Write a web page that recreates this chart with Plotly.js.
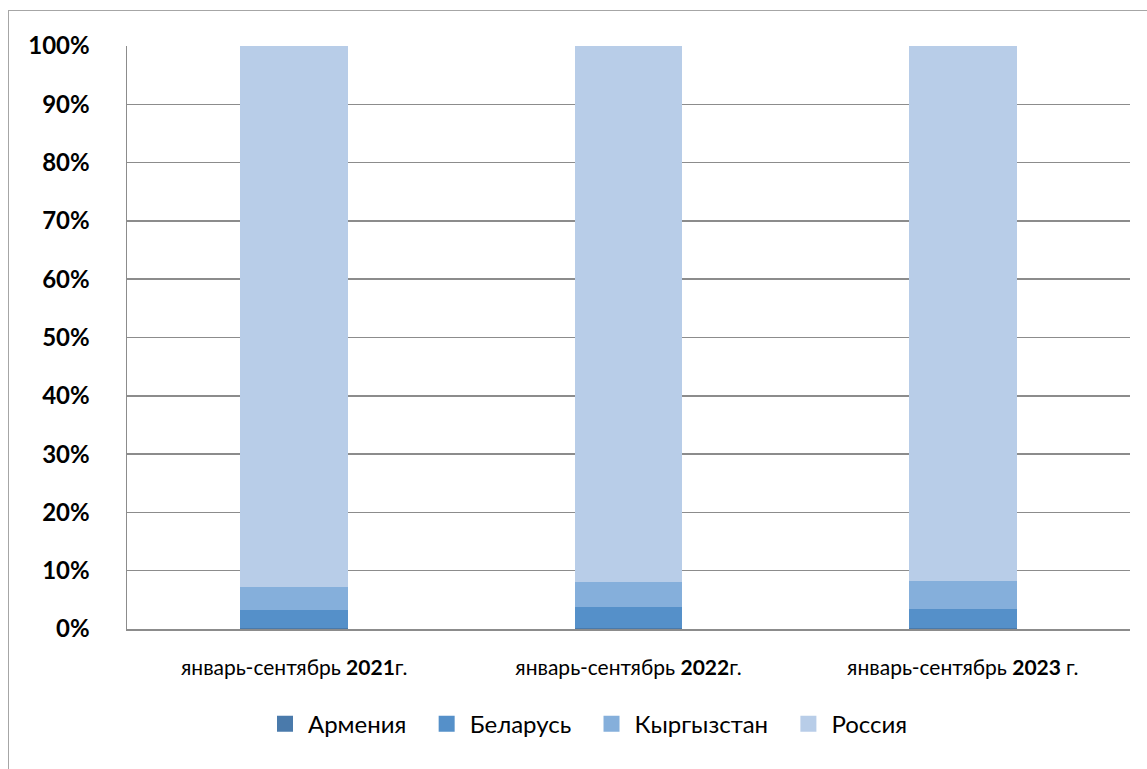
<!DOCTYPE html>
<html>
<head>
<meta charset="utf-8">
<script src="https://cdn.plot.ly/plotly-3.0.1.min.js"></script>
<style>
  html, body { margin: 0; padding: 0; background: #fff; overflow: hidden; }
  #chart { width: 1147px; height: 769px; }
  #frame { position: absolute; left: 8px; top: 10px; width: 1200px; height: 800px;
           border: 1.5px solid #a6a6a6; pointer-events: none; }
</style>
</head>
<body>
<div id="chart"></div>
<div id="frame"></div>
<script>
const categories = [
  'январь-сентябрь <b>2021</b>г.',
  'январь-сентябрь <b>2022</b>г.',
  'январь-сентябрь <b>2023 </b>г.'
];
const seriesNames = ['Армения', 'Беларусь', 'Кыргызстан', 'Россия'];
const armenia    = [0.1, 0.2, 0.15];
const belarus    = [3.2, 3.5, 3.2];
const kyrgyzstan = [3.9, 4.4, 4.9];
const russia     = [92.8, 91.9, 91.75];
const tickValues = [0, 10, 20, 30, 40, 50, 60, 70, 80, 90, 100];
const tickLabels = ['0%', '10%', '20%', '30%', '40%', '50%', '60%', '70%', '80%', '90%', '100%'];

const colors = ['#4a7aab', '#5590c9', '#85afdb', '#b8cde8'];
const seriesValues = [armenia, belarus, kyrgyzstan, russia];

const barTraces = seriesNames.map((name, i) => ({
  type: 'bar',
  name: name,
  x: categories,
  y: seriesValues[i],
  marker: { color: colors[i], line: { width: 0 } },
  showlegend: false,
  legendgroup: name,
  hoverinfo: 'x+y+name'
}));

// legend-only entries with larger square swatches
const legendTraces = seriesNames.map((name, i) => ({
  type: 'scatter',
  mode: 'markers',
  name: name + '\u00a0\u00a0',
  x: [null],
  y: [null],
  legendgroup: name,
  marker: { color: colors[i], symbol: 'square', size: 16, line: { width: 0 } },
  showlegend: true
}));

const font = 'Lato, "Open Sans", "DejaVu Sans", sans-serif';

const layout = {
  width: 1147,
  height: 769,
  margin: { l: 127, r: 17, t: 46, b: 140 },
  paper_bgcolor: '#ffffff',
  plot_bgcolor: '#ffffff',
  barmode: 'stack',
  barnorm: 'percent',
  bargap: 0.677,
  showlegend: true,
  font: { family: font, color: '#000000' },
  xaxis: {
    type: 'category',
    categoryarray: categories,
    showgrid: false,
    showline: true,
    linecolor: '#8c8c8c',
    linewidth: 1.5,
    ticks: '',
    tickfont: { family: font, size: 21, color: '#000000' },
    ticklabelstandoff: 19,
    fixedrange: true
  },
  yaxis: {
    range: [0, 100],
    tickvals: tickValues,
    ticktext: tickLabels,
    showgrid: true,
    gridcolor: '#8c8c8c',
    gridwidth: 1.5,
    showline: true,
    linecolor: '#8c8c8c',
    linewidth: 1.5,
    zeroline: false,
    ticks: '',
    tickfont: { family: font, size: 24, color: '#000000', weight: 'bold' },
    ticklabelstandoff: 31,
    fixedrange: true
  },
  legend: {
    orientation: 'h',
    x: 0.1346,
    xanchor: 'left',
    y: -0.163,
    yanchor: 'middle',
    itemwidth: 36,
    font: { family: font, size: 24, color: '#000000' },
    traceorder: 'normal'
  }
};

Plotly.newPlot('chart', barTraces.concat(legendTraces), layout, { displayModeBar: false, staticPlot: true });
</script>
</body>
</html>
